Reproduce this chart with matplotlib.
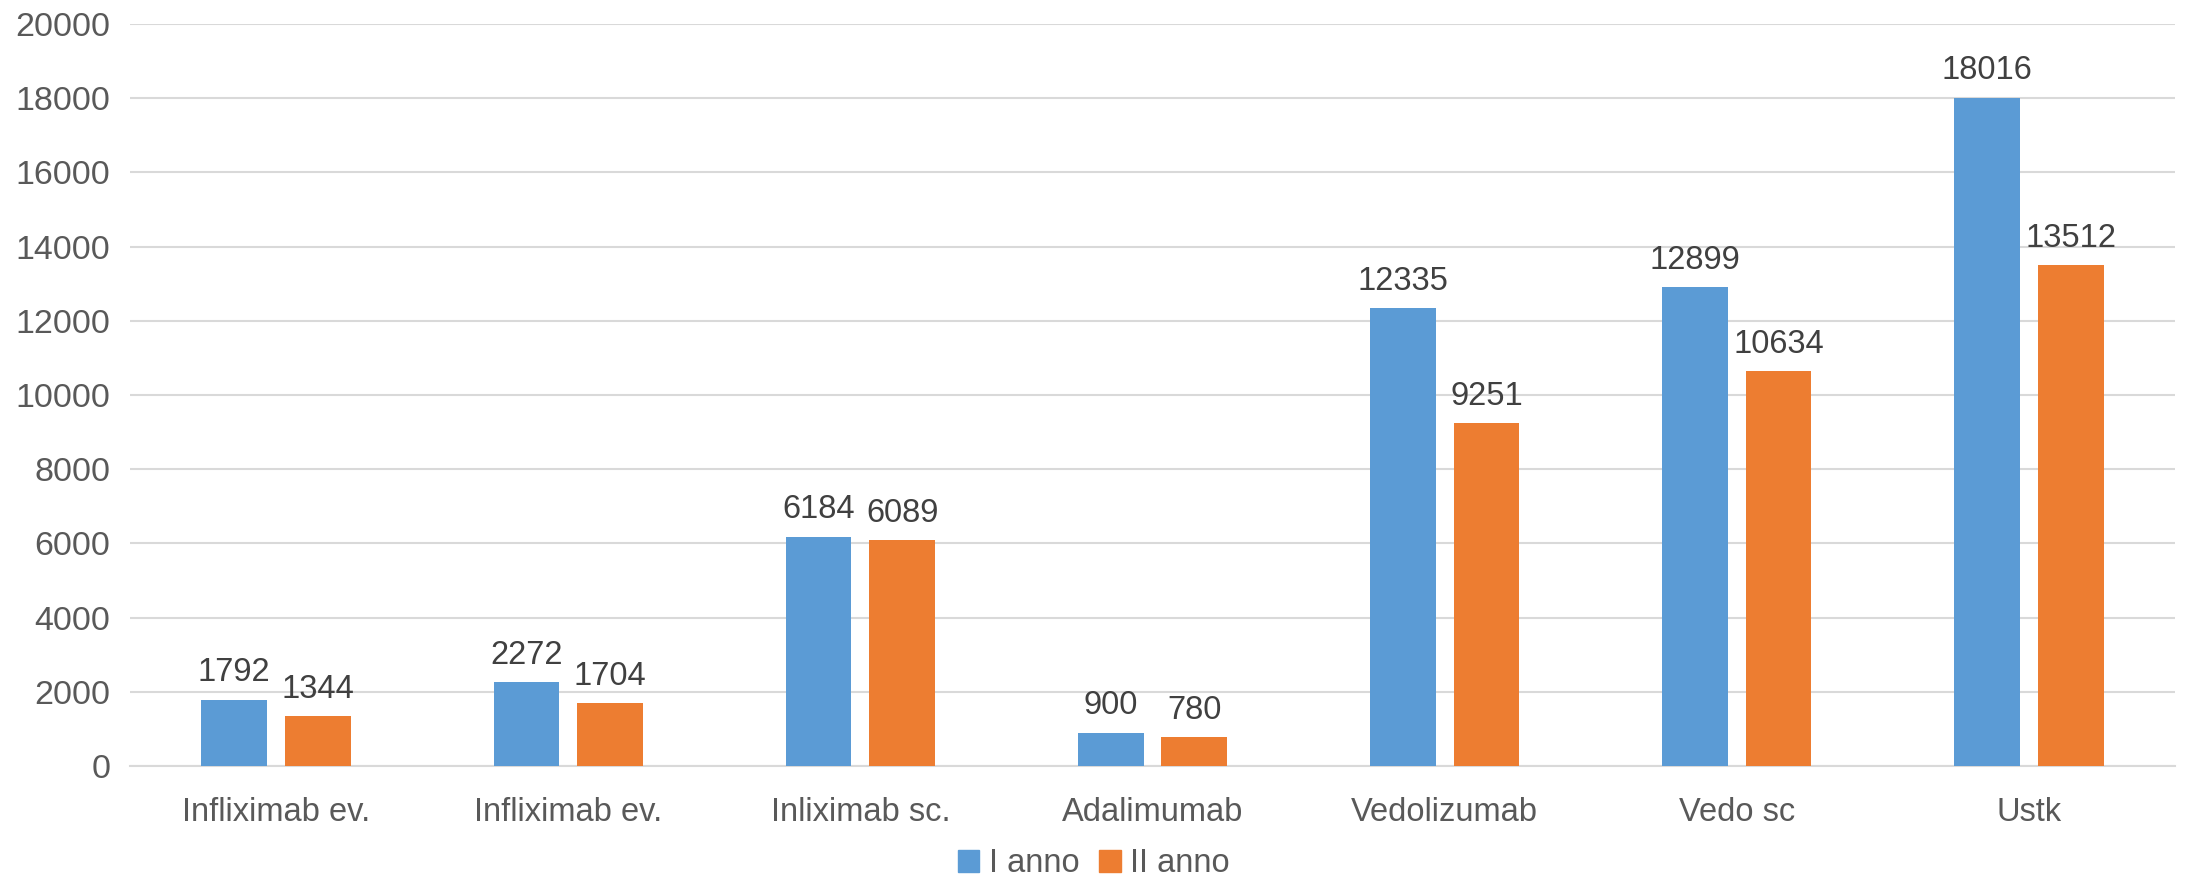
import numpy as np
import matplotlib.pyplot as plt
from matplotlib.patches import Patch

plt.rcParams['font.family'] = ['Liberation Sans', 'DejaVu Sans']

# data
categories = ["Infliximab ev.", "Infliximab ev.", "Inliximab sc.", "Adalimumab",
              "Vedolizumab", "Vedo sc", "Ustk"]
anno_1 = [1792, 2272, 6184, 900, 12335, 12899, 18016]
anno_2 = [1344, 1704, 6089, 780, 9251, 10634, 13512]
series_names = ["I anno", "II anno"]

BLUE = "#5B9BD5"
ORANGE = "#ED7D31"
TICK_COLOR = "#595959"
LABEL_COLOR = "#404040"
FS = 23.5

fig = plt.figure(figsize=(21.88, 8.82), dpi=100)
ax = fig.add_axes([130 / 2188, 1 - 766 / 882, (2175 - 130) / 2188, (766 - 24) / 882])

x = np.arange(len(categories))
w = 0.225
off = 0.143
b1 = ax.bar(x - off, anno_1, w, color=BLUE, zorder=3)
b2 = ax.bar(x + off, anno_2, w, color=ORANGE, zorder=3)

for bars in (b1, b2):
    for r in bars:
        ax.text(r.get_x() + r.get_width() / 2, r.get_height() + 300, f"{int(r.get_height())}",
                ha="center", va="bottom", fontsize=FS, color=LABEL_COLOR)

ax.set_xlim(-0.5, len(categories) - 0.5)
ax.set_ylim(0, 20000)
ax.set_yticks(np.arange(0, 20001, 2000))
ax.yaxis.grid(True, color="#D9D9D9", linewidth=1.5, zorder=0)
ax.set_xticks(x)
ax.set_xticklabels(categories)
ax.tick_params(axis="both", length=0, labelsize=FS, colors=TICK_COLOR)
ax.tick_params(axis="y", labelsize=24.5, pad=14)
ax.tick_params(axis="x", pad=22)
for s in ["top", "right", "left"]:
    ax.spines[s].set_visible(False)
ax.spines["bottom"].set_color("#D9D9D9")
ax.spines["bottom"].set_linewidth(1.5)

handles = [Patch(color=BLUE), Patch(color=ORANGE)]
fig.legend(handles, series_names, loc="center", bbox_to_anchor=(0.5, 1 - 864 / 882),
           ncol=2, frameon=False, fontsize=FS, labelcolor=TICK_COLOR,
           handlelength=0.65, handleheight=0.65, handletextpad=0.3, columnspacing=0.6)

plt.savefig("out.png", dpi=100)
